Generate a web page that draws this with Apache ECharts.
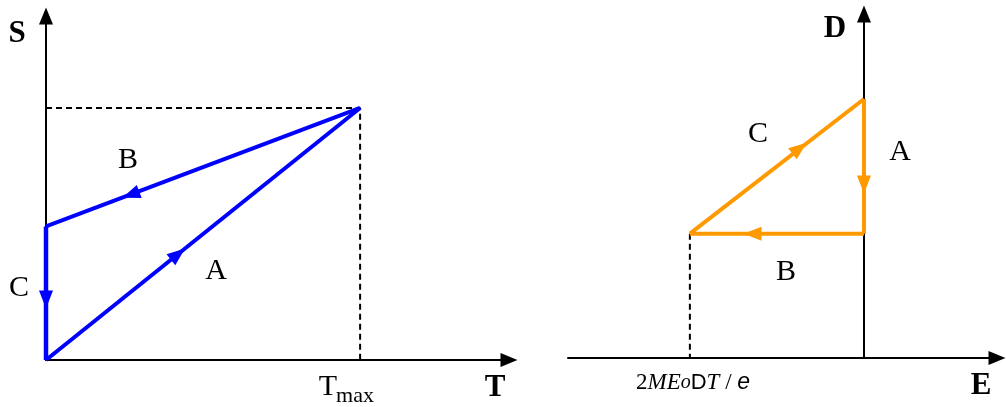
<!DOCTYPE html>
<html>
<head>
<meta charset="utf-8">
<script src="https://cdn.jsdelivr.net/npm/echarts@6/dist/echarts.min.js"></script>
<style>html,body{margin:0;padding:0;background:#fff}#c{width:1006px;height:407px}</style>
</head>
<body>
<div id="c"></div>
<script>
// ---- Left panel: S versus T ----
const pathA_ST = [[0, 0], [1, 1]];
const pathB_ST = [[1, 1], [0, 0.53]];
const pathC_ST = [[0, 0.53], [0, 0]];
const guide_ST = [[0, 1], [1, 1], [1, 0]];
const arrowPts_ST = [[0.42, 0.42], [0.27, 0.656], [0, 0.24]];
const arrowSeg_ST = [pathA_ST, pathB_ST, pathC_ST];

// ---- Right panel: D versus E ----
const pathA_DE = [[0, 1], [0, 0.48]];
const pathB_DE = [[0, 0.48], [-1, 0.48]];
const pathC_DE = [[-1, 0.48], [0, 1]];
const guide_DE = [[-1, 0.48], [-1, 0]];
const arrowPts_DE = [[0, 0.67], [-0.64, 0.48], [-0.37, 0.81]];
const arrowSeg_DE = [pathA_DE, pathB_DE, pathC_DE];

const BLUE = '#0000FF';
const ORANGE = '#FF9900';
const SERIF = '"Liberation Serif", "Times New Roman", serif';
const SANS = '"Liberation Sans", Arial, sans-serif';

const chart = echarts.init(document.getElementById('c'), null, {renderer: 'canvas'});

function axis(gridIndex, min, max) {
  return {
    type: 'value', gridIndex, min, max,
    axisLabel: {show: false}, axisTick: {show: false}, splitLine: {show: false},
    axisLine: {show: true, onZero: true, symbol: ['none', 'triangle'], symbolSize: [14, 17],
      lineStyle: {color: '#000', width: 2}}
  };
}
function line(data, color, width, g, dashed) {
  return {
    type: 'line', data, xAxisIndex: g, yAxisIndex: g, symbol: 'none', showSymbol: false,
    clip: false, silent: true, animation: false,
    lineStyle: {color, width, type: dashed ? [6, 4] : 'solid'}, z: dashed ? 1 : 3
  };
}
function txt(x, y, text, size, bold, family, align) {
  return {type: 'text', x, y, style: {
    text, fontSize: size, fontWeight: bold ? 'bold' : 'normal', fontFamily: family || SERIF,
    fill: '#000', textAlign: align || 'center', textVerticalAlign: 'middle'}};
}

const baseOption = {
  animation: false,
  grid: [
    {left: 46, right: 497, top: 16, bottom: 47},
    {left: 568, right: 9, top: 14, bottom: 49}
  ],
  xAxis: [axis(0, 0, 1.474), axis(1, -1.70, 0.764)],
  yAxis: [axis(0, 0, 1.365), axis(1, 0, 1.328)],
  series: [
    line(guide_ST, '#000', 2, 0, true),
    line(pathA_ST, BLUE, 4, 0),
    line(pathB_ST, BLUE, 4, 0),
    line(pathC_ST, BLUE, 4.5, 0),
    line(guide_DE, '#000', 2, 1, true),
    line(pathA_DE, ORANGE, 4, 1),
    line(pathB_DE, ORANGE, 4, 1),
    line(pathC_DE, ORANGE, 4, 1)
  ],
  graphic: [
    txt(17, 34, 'S', 31, true),
    txt(495, 388, 'T', 31, true),
    txt(328, 387, 'T', 30),
    txt(355, 396, 'max', 22),
    txt(128, 160, 'B', 30),
    txt(216, 271, 'A', 30),
    txt(19, 288, 'C', 30),
    txt(835, 29, 'D', 31, true),
    txt(981, 386, 'E', 31, true),
    txt(758, 134, 'C', 30),
    txt(900, 152, 'A', 30),
    txt(786, 272, 'B', 30),
    {type: 'text', x: 636, y: 383, style: {
      text: '{n|2}{i|ME}{o|o}{d|D}{i|T}{n| / }{e|e}',
      textVerticalAlign: 'middle', textAlign: 'left',
      rich: {
        n: {fontSize: 23, fontFamily: SERIF, fill: '#000'},
        i: {fontSize: 23, fontStyle: 'italic', fontFamily: SERIF, fill: '#000'},
        o: {fontSize: 20, fontStyle: 'italic', fontFamily: SERIF, fill: '#000'},
        d: {fontSize: 22, fontFamily: SANS, fill: '#000'},
        e: {fontSize: 23, fontStyle: 'italic', fontFamily: SANS, fill: '#000'}
      }
    }}
  ]
};
chart.setOption(baseOption);

function arrowData(g, pts, segs) {
  return pts.map((p, i) => {
    const a = chart.convertToPixel({gridIndex: g}, segs[i][0]);
    const b = chart.convertToPixel({gridIndex: g}, segs[i][1]);
    const theta = Math.atan2(-(b[1] - a[1]), b[0] - a[0]) * 180 / Math.PI;
    return {value: p, symbolRotate: theta - 90};
  });
}
function arrowSeries(g, pts, segs, color) {
  return {
    type: 'scatter', xAxisIndex: g, yAxisIndex: g, symbol: 'triangle', symbolSize: [14, 18],
    data: arrowData(g, pts, segs), itemStyle: {color, opacity: 1}, z: 4, silent: true, animation: false, clip: false
  };
}
chart.setOption({
  series: baseOption.series.concat([
    arrowSeries(0, arrowPts_ST, arrowSeg_ST, BLUE),
    arrowSeries(1, arrowPts_DE, arrowSeg_DE, ORANGE)
  ])
});
</script>
</body>
</html>
